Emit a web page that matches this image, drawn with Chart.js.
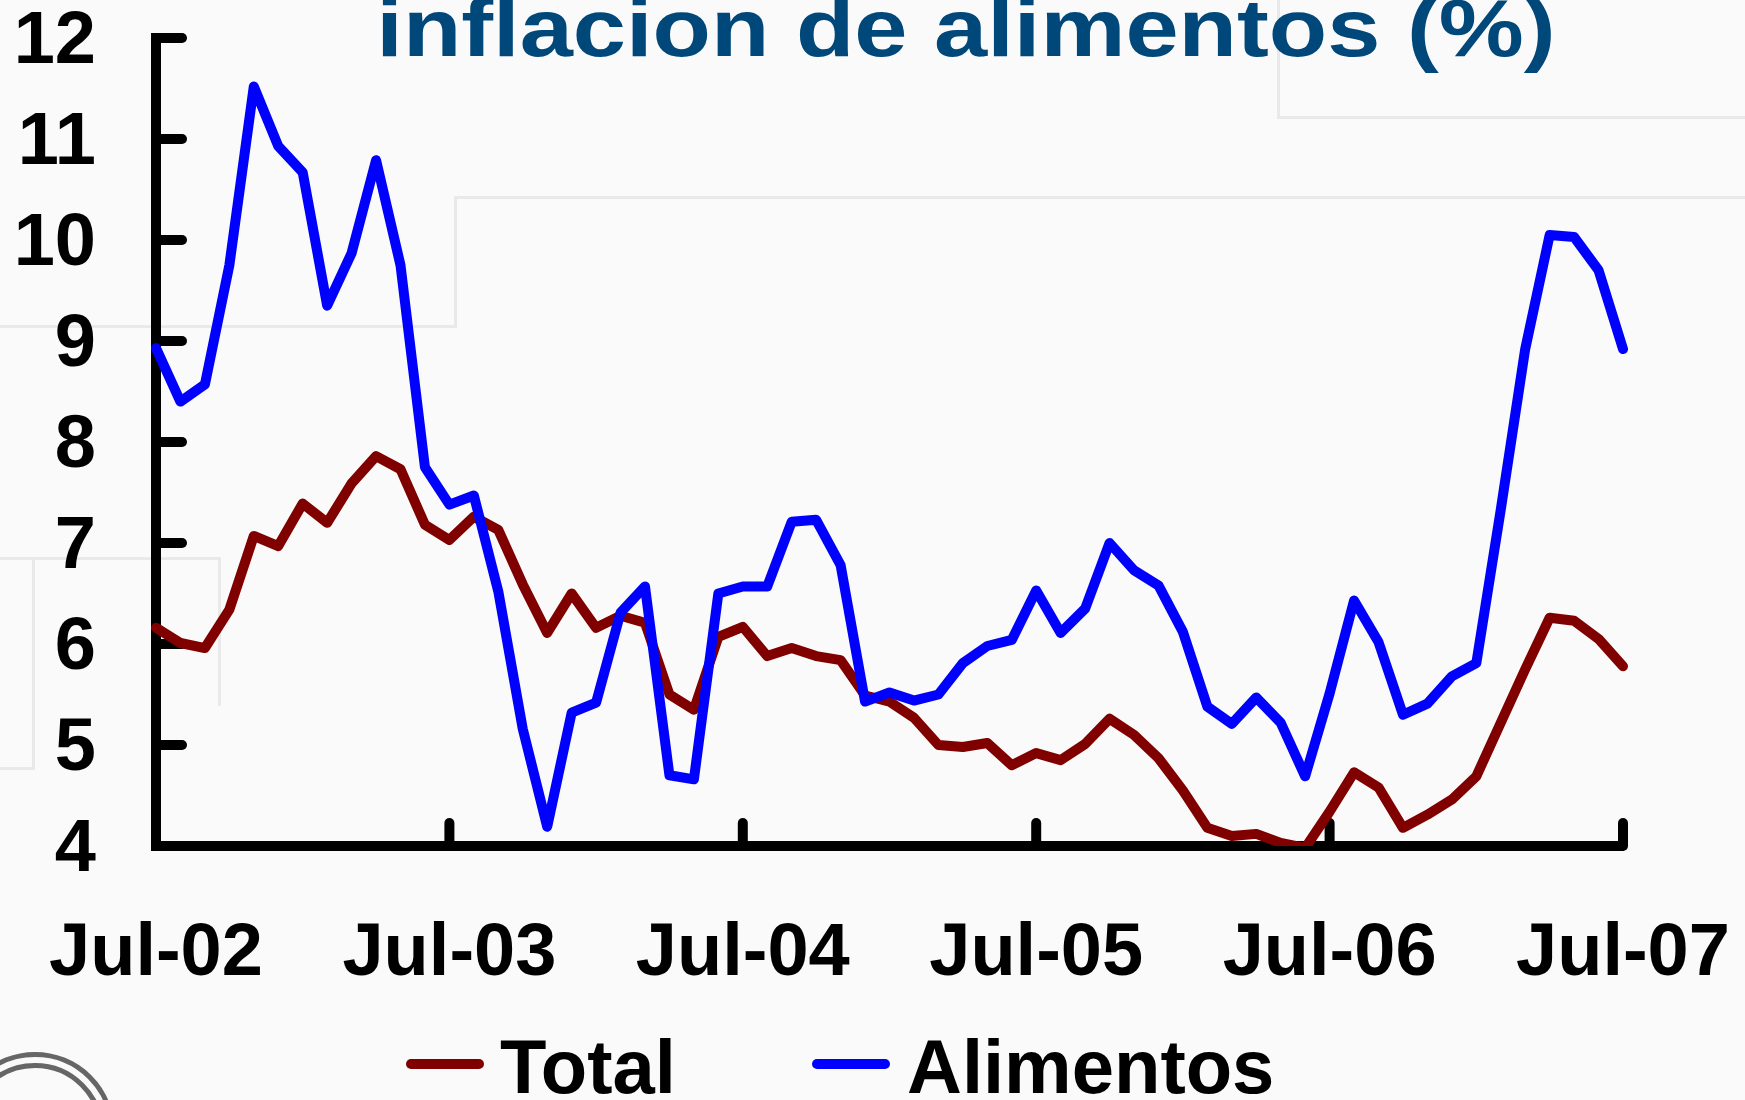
<!DOCTYPE html>
<html>
<head>
<meta charset="utf-8">
<script src="https://cdn.jsdelivr.net/npm/chart.js@4"></script>
<style>
  html, body { margin: 0; padding: 0; }
  body { width: 1745px; height: 1100px; background: #fafafa; position: relative; overflow: hidden;
         font-family: "Liberation Sans", Arial, sans-serif; }
  .panel { position: absolute; border: 0 solid #e9e9e9; }
  #title { position: absolute; left: 966px; top: -13px; white-space: nowrap; line-height: 1;
           font-size: 82px; font-weight: bold; color: #00477a;
           transform: translateX(-50%) scaleX(1.166); }
  #chart { position: absolute; left: 0; top: 0; }
  .mark { position: absolute; width: 78px; height: 10px; border-radius: 5px; }
  .lbl { position: absolute; line-height: 1; font-size: 76px; font-weight: bold; color: #000; white-space: nowrap; }
  #seal { position: absolute; left: -45px; top: 1052px; width: 160px; height: 160px; border-radius: 50%;
          border: 16px double #666; box-sizing: border-box; }
</style>
</head>
<body>
<div class="panel" style="left:1277px; top:-5px; width:600px; height:121px; border-left-width:3px; border-bottom-width:3px;"></div>
<div class="panel" style="left:454px; top:196px; width:1400px; height:129px; border-left-width:3px; border-top-width:3px;"></div>
<div class="panel" style="left:-5px; top:325px; width:459px; height:0; border-top-width:3px;"></div>
<div class="panel" style="left:-5px; top:557px; width:223px; height:146px; border-top-width:3px; border-right-width:3px;"></div>
<div class="panel" style="left:-5px; top:557px; width:37px; height:210px; border-right-width:3px; border-bottom-width:3px;"></div>

<div id="title">inflacion de alimentos (%)</div>
<canvas id="chart" width="1745" height="1100"></canvas>

<div class="mark" style="left:406px; top:1059px; background:#800000;"></div>
<div class="lbl" style="left:500px; top:1029px;">Total</div>
<div class="mark" style="left:812px; top:1059px; background:#0000ff;"></div>
<div class="lbl" style="left:907px; top:1029px;">Alimentos</div>
<div id="seal"></div>

<script>
// inflacion anual, jul-2002 .. jul-2007 (mensual)
const monthNames = ["Ene","Feb","Mar","Abr","May","Jun","Jul","Ago","Sep","Oct","Nov","Dic"]
const startYear = 2002
const startMonth = 6   // julio
const nMonths = 61

const total = [6.16, 6.01, 5.96, 6.34, 7.07, 6.97, 7.39, 7.20, 7.59, 7.86,
               7.73, 7.18, 7.03, 7.26, 7.13, 6.59, 6.11, 6.50, 6.16, 6.28,
               6.21, 5.50, 5.35, 6.07, 6.17, 5.88, 5.96, 5.88, 5.84, 5.49,
               5.43, 5.27, 5.00, 4.98, 5.02, 4.80, 4.92, 4.85, 5.01, 5.26,
               5.10, 4.87, 4.55, 4.18, 4.10, 4.12, 4.03, 3.98, 4.34, 4.73,
               4.58, 4.18, 4.31, 4.46, 4.69, 5.22, 5.75, 6.26, 6.23, 6.05,
               5.78]

const alimentos = [8.93, 8.40, 8.57, 9.75, 11.52, 10.93, 10.67, 9.35, 9.87, 10.79,
                   9.75, 7.75, 7.38, 7.47, 6.52, 5.16, 4.19, 5.32, 5.42, 6.31,
                   6.57, 4.70, 4.66, 6.50, 6.57, 6.57, 7.21, 7.23, 6.78, 5.43,
                   5.52, 5.44, 5.50, 5.81, 5.98, 6.04, 6.53, 6.11, 6.35, 7.00,
                   6.73, 6.58, 6.12, 5.38, 5.21, 5.47, 5.22, 4.69, 5.51, 6.43,
                   6.02, 5.30, 5.41, 5.68, 5.81, 7.33, 8.92, 10.05, 10.03, 9.70,
                   8.92]

const yMin = 4
const yMax = 12
const lineW = 10

let labels = []
for (let i = 0; i < nMonths; i++) {
    let m = (startMonth + i) % 12,
        y = startYear + Math.floor((startMonth + i) / 12)
    labels.push(monthNames[m] + "-" + String(y % 100).padStart(2, "0"))
}

const tickFont = { family: "'Liberation Sans', Arial, sans-serif", size: 74, weight: "bold", lineHeight: 1 }

// ticks go inward from the axes, like the original
const innerTicks = {
    id: "innerTicks",
    beforeDatasetsDraw(chart) {
        const { ctx, chartArea, scales } = chart
        ctx.save()
        ctx.strokeStyle = "#000"
        ctx.lineWidth = 10
        ctx.lineCap = "round"
        scales.y.ticks.forEach(t => {
            const py = scales.y.getPixelForValue(t.value)
            ctx.beginPath()
            ctx.moveTo(chartArea.left, py)
            ctx.lineTo(chartArea.left + 26, py)
            ctx.stroke()
        })
        labels.forEach((l, i) => {
            if (i % 12 !== 0) return
            const px = scales.x.getPixelForValue(i)
            ctx.beginPath()
            ctx.moveTo(px, chartArea.bottom)
            ctx.lineTo(px, chartArea.bottom - 23)
            ctx.stroke()
        })
        ctx.restore()
    }
}

const ctx = document.getElementById("chart").getContext("2d")
const chart = new Chart(ctx, {
    type: "line",
    data: {
        labels: labels,
        datasets: [{
            label: "Alimentos",
            data: alimentos,
            borderColor: "#0000ff",
            borderWidth: lineW,
            pointRadius: 0,
            tension: 0,
            fill: false
        }, {
            label: "Total",
            data: total,
            borderColor: "#800000",
            borderWidth: lineW,
            pointRadius: 0,
            tension: 0,
            fill: false
        }]
    },
    options: {
        responsive: false,
        animation: false,
        devicePixelRatio: 1,
        elements: {
            line: { borderWidth: lineW, borderJoinStyle: "round", borderCapStyle: "round" }
        },
        layout: { padding: { left: 14, right: 122, top: 38, bottom: 114 } },
        plugins: {
            legend: { display: false },
            title: { display: false },
            tooltip: { enabled: false }
        },
        scales: {
            x: {
                type: "category",
                offset: false,
                grid: { display: false, drawTicks: false },
                border: { display: true, color: "#000", width: 10 },
                ticks: {
                    autoSkip: false,
                    maxRotation: 0,
                    minRotation: 0,
                    padding: 72,
                    color: "#000",
                    font: tickFont,
                    callback: (v, i) => i % 12 === 0 ? labels[i] : ""
                },
                afterFit: (s) => {
                    s.height = 140
                    s.paddingLeft = 0
                    s.paddingRight = 0
                }
            },
            y: {
                min: yMin,
                max: yMax,
                grid: { display: false, drawTicks: false },
                border: { display: true, color: "#000", width: 10 },
                ticks: {
                    stepSize: 1,
                    padding: 60,
                    labelOffset: 5,
                    color: "#000",
                    font: tickFont
                },
                afterFit: (s) => {
                    s.width = 142
                    s.paddingTop = 0
                    s.paddingBottom = 0
                }
            }
        }
    },
    plugins: [innerTicks]
})
</script>
</body>
</html>
